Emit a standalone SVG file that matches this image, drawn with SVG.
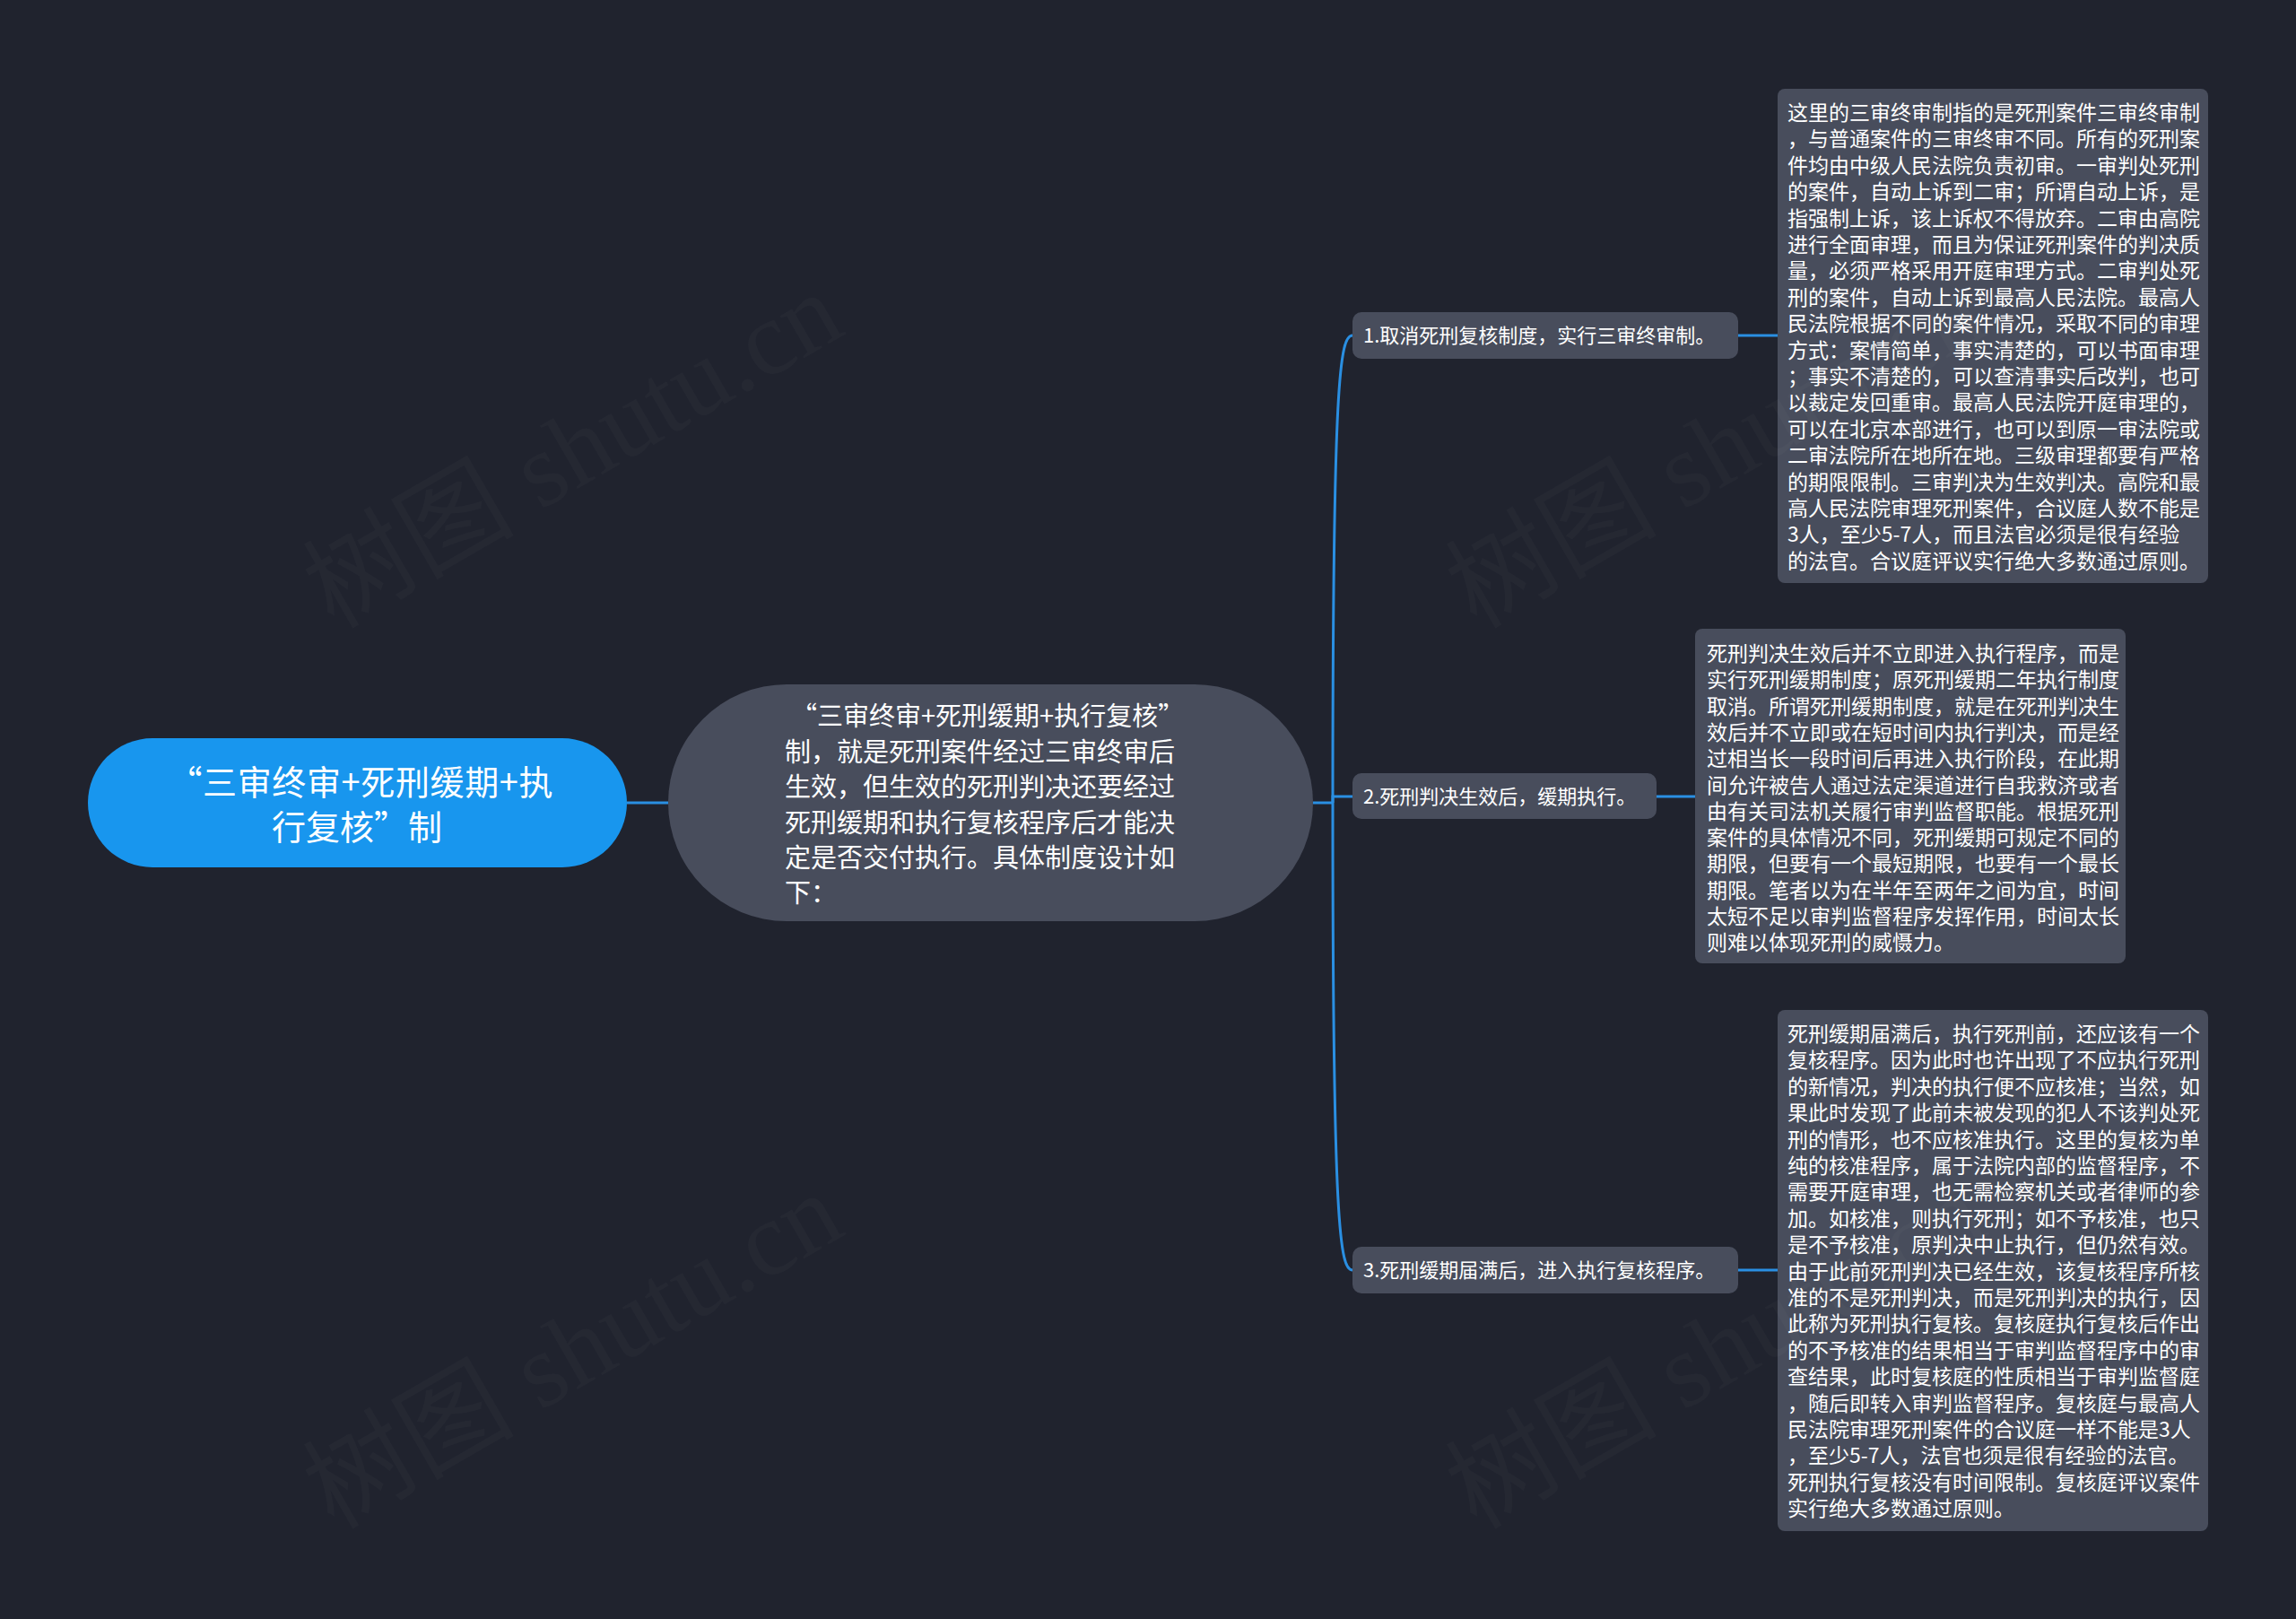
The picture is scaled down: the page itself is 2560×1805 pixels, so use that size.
<svg xmlns="http://www.w3.org/2000/svg" width="2560" height="1805" viewBox="0 0 2560 1805">
<style>
.t{font-family:"Noto Sans CJK SC","Noto Sans",sans-serif;fill:#ffffff}
.root{font-size:38px}
.mid{font-size:29px}
.br{font-size:22px}
.lf{font-size:23px}
.box{fill:#484d5c}
.con{fill:none;stroke:#2a8fe2;stroke-width:3}
.wm{font-family:"Liberation Serif","Noto Sans CJK SC",serif;font-size:118px;fill:#ffffff;fill-opacity:0.025}
</style>
<rect width="2560" height="1805" fill="#20232e"/>
<g id="connectors">
<path class="con" d="M699,895 L745,895"/>
<path class="con" d="M1464,895 L1486,895"/>
<path class="con" d="M1486,895 C1486,420 1494,374 1508,374"/>
<path class="con" d="M1486,895 L1486,888 L1508,888"/>
<path class="con" d="M1486,895 C1486,1370 1494,1416 1508,1416"/>
<path class="con" d="M1938,374 L1982,374"/>
<path class="con" d="M1847,888 L1890,888"/>
<path class="con" d="M1938,1416 L1982,1416"/>
</g>
<g id="root">
<rect x="98" y="823" width="601" height="144" rx="72" fill="#1896ee"/>
<text class="t root" text-anchor="middle"><tspan x="402" y="886" textLength="429" lengthAdjust="spacing">“三审终审+死刑缓期+执</tspan><tspan x="398" y="936">行复核”制</tspan></text>
</g>
<g id="main">
<rect x="745" y="763" width="719" height="264" rx="132" class="box"/>
<text class="t mid"><tspan x="882" y="809">“三审终审+死刑缓期+执行复核”</tspan><tspan x="875" y="849">制，就是死刑案件经过三审终审后</tspan><tspan x="875" y="888">生效，但生效的死刑判决还要经过</tspan><tspan x="875" y="928">死刑缓期和执行复核程序后才能决</tspan><tspan x="875" y="967">定是否交付执行。具体制度设计如</tspan><tspan x="875" y="1006">下：</tspan></text>
</g>
<g id="branch1">
<rect x="1508" y="348" width="430" height="52" rx="10" class="box"/>
<text class="t br" x="1520" y="382">1.取消死刑复核制度，实行三审终审制。</text>
</g>
<g id="branch2">
<rect x="1508" y="862" width="339" height="51" rx="10" class="box"/>
<text class="t br" x="1520" y="896">2.死刑判决生效后，缓期执行。</text>
</g>
<g id="branch3">
<rect x="1508" y="1390" width="430" height="52" rx="10" class="box"/>
<text class="t br" x="1520" y="1424">3.死刑缓期届满后，进入执行复核程序。</text>
</g>
<g id="leaf1">
<rect x="1982" y="99" width="480" height="551" rx="8" class="box"/>
<text class="t lf"><tspan x="1993" y="134">这里的三审终审制指的是死刑案件三审终审制</tspan><tspan x="1993" y="163.4">，与普通案件的三审终审不同。所有的死刑案</tspan><tspan x="1993" y="192.8">件均由中级人民法院负责初审。一审判处死刑</tspan><tspan x="1993" y="222.2">的案件，自动上诉到二审；所谓自动上诉，是</tspan><tspan x="1993" y="251.6">指强制上诉，该上诉权不得放弃。二审由高院</tspan><tspan x="1993" y="281">进行全面审理，而且为保证死刑案件的判决质</tspan><tspan x="1993" y="310.4">量，必须严格采用开庭审理方式。二审判处死</tspan><tspan x="1993" y="339.8">刑的案件，自动上诉到最高人民法院。最高人</tspan><tspan x="1993" y="369.2">民法院根据不同的案件情况，采取不同的审理</tspan><tspan x="1993" y="398.6">方式：案情简单，事实清楚的，可以书面审理</tspan><tspan x="1993" y="428">；事实不清楚的，可以查清事实后改判，也可</tspan><tspan x="1993" y="457.4">以裁定发回重审。最高人民法院开庭审理的，</tspan><tspan x="1993" y="486.8">可以在北京本部进行，也可以到原一审法院或</tspan><tspan x="1993" y="516.2">二审法院所在地所在地。三级审理都要有严格</tspan><tspan x="1993" y="545.6">的期限限制。三审判决为生效判决。高院和最</tspan><tspan x="1993" y="575">高人民法院审理死刑案件，合议庭人数不能是</tspan><tspan x="1993" y="604.4">3人，至少5-7人，而且法官必须是很有经验</tspan><tspan x="1993" y="633.8">的法官。合议庭评议实行绝大多数通过原则。</tspan></text>
</g>
<g id="leaf2">
<rect x="1890" y="701" width="480" height="373" rx="8" class="box"/>
<text class="t lf"><tspan x="1903" y="737">死刑判决生效后并不立即进入执行程序，而是</tspan><tspan x="1903" y="766.3">实行死刑缓期制度；原死刑缓期二年执行制度</tspan><tspan x="1903" y="795.6">取消。所谓死刑缓期制度，就是在死刑判决生</tspan><tspan x="1903" y="824.9">效后并不立即或在短时间内执行判决，而是经</tspan><tspan x="1903" y="854.2">过相当长一段时间后再进入执行阶段，在此期</tspan><tspan x="1903" y="883.5">间允许被告人通过法定渠道进行自我救济或者</tspan><tspan x="1903" y="912.8">由有关司法机关履行审判监督职能。根据死刑</tspan><tspan x="1903" y="942.1">案件的具体情况不同，死刑缓期可规定不同的</tspan><tspan x="1903" y="971.4">期限，但要有一个最短期限，也要有一个最长</tspan><tspan x="1903" y="1000.7">期限。笔者以为在半年至两年之间为宜，时间</tspan><tspan x="1903" y="1030">太短不足以审判监督程序发挥作用，时间太长</tspan><tspan x="1903" y="1059.3">则难以体现死刑的威慑力。</tspan></text>
</g>
<g id="leaf3">
<rect x="1982" y="1126" width="480" height="581" rx="8" class="box"/>
<text class="t lf"><tspan x="1993" y="1161">死刑缓期届满后，执行死刑前，还应该有一个</tspan><tspan x="1993" y="1190.4">复核程序。因为此时也许出现了不应执行死刑</tspan><tspan x="1993" y="1219.8">的新情况，判决的执行便不应核准；当然，如</tspan><tspan x="1993" y="1249.2">果此时发现了此前未被发现的犯人不该判处死</tspan><tspan x="1993" y="1278.6">刑的情形，也不应核准执行。这里的复核为单</tspan><tspan x="1993" y="1308">纯的核准程序，属于法院内部的监督程序，不</tspan><tspan x="1993" y="1337.4">需要开庭审理，也无需检察机关或者律师的参</tspan><tspan x="1993" y="1366.8">加。如核准，则执行死刑；如不予核准，也只</tspan><tspan x="1993" y="1396.2">是不予核准，原判决中止执行，但仍然有效。</tspan><tspan x="1993" y="1425.6">由于此前死刑判决已经生效，该复核程序所核</tspan><tspan x="1993" y="1455">准的不是死刑判决，而是死刑判决的执行，因</tspan><tspan x="1993" y="1484.4">此称为死刑执行复核。复核庭执行复核后作出</tspan><tspan x="1993" y="1513.8">的不予核准的结果相当于审判监督程序中的审</tspan><tspan x="1993" y="1543.2">查结果，此时复核庭的性质相当于审判监督庭</tspan><tspan x="1993" y="1572.6">，随后即转入审判监督程序。复核庭与最高人</tspan><tspan x="1993" y="1602">民法院审理死刑案件的合议庭一样不能是3人</tspan><tspan x="1993" y="1631.4">，至少5-7人，法官也须是很有经验的法官。</tspan><tspan x="1993" y="1660.8">死刑执行复核没有时间限制。复核庭评议案件</tspan><tspan x="1993" y="1690.2">实行绝大多数通过原则。</tspan></text>
</g>
<g id="watermark">
<text class="wm" transform="translate(372,702) rotate(-30)">树图 shutu.cn</text>
<text class="wm" transform="translate(372,1706) rotate(-30)">树图 shutu.cn</text>
<text class="wm" transform="translate(1646,702) rotate(-30)">树图 shutu.cn</text>
<text class="wm" transform="translate(1646,1706) rotate(-30)">树图 shutu.cn</text>
</g>
</svg>
